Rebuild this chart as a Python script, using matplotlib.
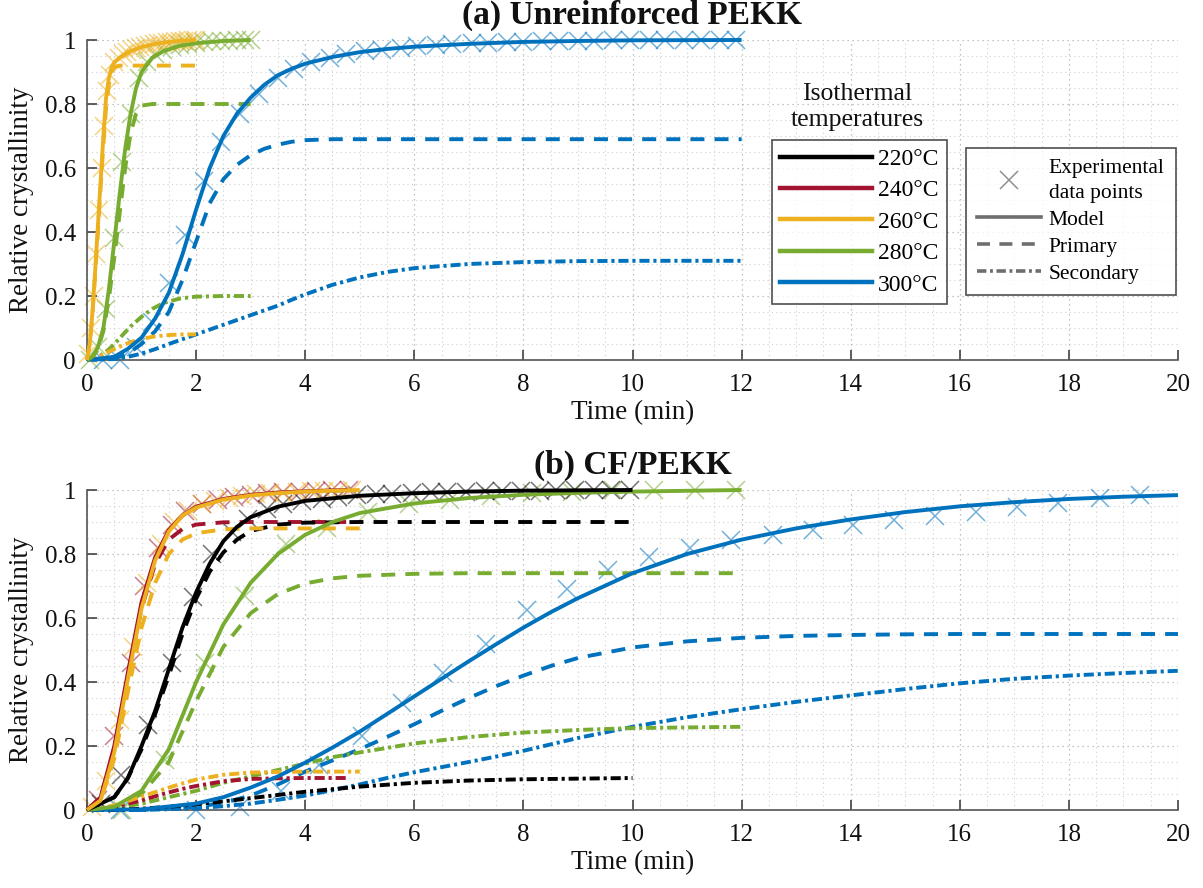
import matplotlib
matplotlib.use("Agg")
import matplotlib.pyplot as plt
from matplotlib.lines import Line2D
from matplotlib.ticker import MultipleLocator, FixedLocator

plt.rcParams['font.family'] = ['Liberation Serif', 'DejaVu Serif']

# ---------------- colours ----------------
C220, C240, C260, C280, C300 = '#000000', '#A2142F', '#EDB120', '#77AC30', '#0072BD'
temps = ['220°C', '240°C', '260°C', '280°C', '300°C']

# ---------------- (a) Unreinforced PEKK ----------------
t_a260 = [0, 0.05, 0.1, 0.15, 0.2, 0.25, 0.3, 0.35, 0.4, 0.45, 0.5, 0.6, 0.8, 1.0, 1.25, 1.5, 1.75, 2.0]
model_a260 = [0, 0.05, 0.15, 0.28, 0.42, 0.56, 0.7, 0.82, 0.88, 0.915, 0.93, 0.945, 0.965, 0.978, 0.988, 0.994, 0.998, 1.0]
prim_a260 = [0, 0.05, 0.14, 0.27, 0.4, 0.54, 0.67, 0.79, 0.86, 0.9, 0.915, 0.92, 0.92, 0.92, 0.92, 0.92, 0.92, 0.92]
sec_a260 = [0, 0, 0.002, 0.005, 0.01, 0.014, 0.018, 0.022, 0.026, 0.03, 0.034, 0.042, 0.056, 0.066, 0.074, 0.078, 0.08, 0.08]
exp_t_a260 = [0.02, 0.07, 0.12, 0.17, 0.22, 0.27, 0.32, 0.37, 0.42, 0.5, 0.58, 0.66, 0.74, 0.82, 0.9, 0.98, 1.06,
              1.14, 1.22, 1.3, 1.38, 1.46, 1.54, 1.62, 1.7, 1.78, 1.86, 1.94, 2.0]
exp_v_a260 = [0.02, 0.1, 0.2, 0.33, 0.47, 0.6, 0.73, 0.84, 0.89, 0.93, 0.945, 0.955, 0.962, 0.968, 0.974, 0.978, 0.982,
              0.985, 0.988, 0.99, 0.992, 0.994, 0.995, 0.996, 0.997, 0.998, 0.999, 1.0, 1.0]

t_a280 = [0, 0.1, 0.2, 0.3, 0.4, 0.5, 0.6, 0.7, 0.8, 0.9, 1.0, 1.2, 1.4, 1.7, 2.0, 2.5, 3.0]
model_a280 = [0, 0.01, 0.04, 0.1, 0.22, 0.37, 0.52, 0.66, 0.77, 0.85, 0.9, 0.945, 0.965, 0.982, 0.99, 0.997, 1.0]
prim_a280 = [0, 0.01, 0.035, 0.09, 0.19, 0.32, 0.46, 0.6, 0.71, 0.77, 0.795, 0.8, 0.8, 0.8, 0.8, 0.8, 0.8]
sec_a280 = [0, 0.003, 0.01, 0.02, 0.033, 0.05, 0.068, 0.087, 0.105, 0.12, 0.135, 0.16, 0.178, 0.192, 0.198, 0.2, 0.2]
exp_t_a280 = [0.05, 0.2, 0.35, 0.5, 0.65, 0.8, 0.95, 1.1, 1.25, 1.4, 1.55, 1.7, 1.85, 2.0, 2.15, 2.3, 2.45, 2.6, 2.75, 2.9, 3.0]
exp_v_a280 = [0.0, 0.04, 0.16, 0.38, 0.62, 0.77, 0.88, 0.93, 0.955, 0.968, 0.977, 0.983, 0.988, 0.991, 0.994, 0.996,
              0.997, 0.998, 0.999, 1.0, 1.0]

t_a300 = [0, 0.5, 0.75, 1.0, 1.25, 1.5, 1.75, 2.0, 2.25, 2.5, 2.75, 3.0, 3.25, 3.5, 3.75, 4.0, 4.5, 5.0, 5.5, 6.0,
          7.0, 8.0, 9.0, 10.0, 12.0]
model_a300 = [0, 0.01, 0.035, 0.07, 0.13, 0.21, 0.33, 0.47, 0.6, 0.7, 0.77, 0.82, 0.86, 0.89, 0.91, 0.926, 0.947,
              0.962, 0.972, 0.979, 0.988, 0.994, 0.997, 0.999, 1.0]
prim_a300 = [0, 0.005, 0.02, 0.05, 0.09, 0.15, 0.25, 0.37, 0.49, 0.565, 0.61, 0.64, 0.66, 0.673, 0.682, 0.687, 0.69,
             0.69, 0.69, 0.69, 0.69, 0.69, 0.69, 0.69, 0.69]
sec_a300 = [0, 0.003, 0.01, 0.02, 0.034, 0.05, 0.065, 0.08, 0.095, 0.11, 0.125, 0.14, 0.155, 0.17, 0.188, 0.205,
            0.235, 0.258, 0.275, 0.287, 0.3, 0.306, 0.309, 0.31, 0.31]
exp_t_a300 = [0.3, 0.6, 0.9, 1.2, 1.5, 1.8, 2.15, 2.45, 2.8, 3.15, 3.5, 3.8, 4.1, 4.45, 4.75, 5.1, 5.4, 5.75, 6.05,
              6.4, 6.7, 7.05, 7.35, 7.7, 8.0, 8.35, 8.65, 9.0, 9.3, 9.65, 9.95, 10.3, 10.6, 10.95, 11.25, 11.6, 11.9]
exp_v_a300 = [0.0, 0.0, 0.04, 0.12, 0.24, 0.39, 0.56, 0.68, 0.77, 0.83, 0.88, 0.91, 0.93, 0.945, 0.955, 0.965, 0.97,
              0.975, 0.98, 0.985, 0.988, 0.99, 0.992, 0.994, 0.995, 0.996, 0.997, 0.998, 0.998, 0.999, 0.999, 1.0,
              1.0, 1.0, 1.0, 1.0, 1.0]

# ---------------- (b) CF/PEKK ----------------
t_b220 = [0, 0.5, 0.75, 1.0, 1.25, 1.5, 1.75, 2.0, 2.25, 2.5, 2.75, 3.0, 3.5, 4.0, 5.0, 6.0, 7.0, 8.0, 10.0]
model_b220 = [0, 0.04, 0.1, 0.2, 0.31, 0.44, 0.57, 0.68, 0.77, 0.84, 0.885, 0.915, 0.948, 0.966, 0.982, 0.99, 0.995, 0.998, 1.0]
prim_b220 = [0, 0.04, 0.1, 0.19, 0.3, 0.42, 0.55, 0.66, 0.745, 0.805, 0.845, 0.872, 0.892, 0.898, 0.9, 0.9, 0.9, 0.9, 0.9]
sec_b220 = [0, 0.001, 0.002, 0.004, 0.007, 0.01, 0.014, 0.018, 0.022, 0.027, 0.032, 0.037, 0.047, 0.057, 0.073,
            0.085, 0.092, 0.096, 0.1]
exp_t_b220 = [0.25, 0.62, 1.12, 1.55, 1.95, 2.3, 2.65, 2.95, 3.3, 3.6, 3.95, 4.3, 4.6, 4.95, 5.3, 5.6, 5.95, 6.3,
              6.6, 6.95, 7.3, 7.6, 7.95, 8.3, 8.6, 8.95, 9.3, 9.6, 9.95]
exp_v_b220 = [0.02, 0.11, 0.265, 0.46, 0.665, 0.8, 0.87, 0.91, 0.94, 0.955, 0.965, 0.972, 0.978, 0.983, 0.986, 0.989,
              0.991, 0.993, 0.994, 0.995, 0.996, 0.997, 0.998, 0.998, 0.999, 0.999, 1.0, 1.0, 1.0]

t_b240 = [0, 0.25, 0.5, 0.75, 1.0, 1.25, 1.5, 1.75, 2.0, 2.5, 3.0, 3.5, 4.0, 4.75]
model_b240 = [0, 0.04, 0.2, 0.43, 0.65, 0.79, 0.875, 0.92, 0.948, 0.972, 0.985, 0.992, 0.996, 1.0]
prim_b240 = [0, 0.04, 0.19, 0.42, 0.63, 0.77, 0.845, 0.878, 0.892, 0.899, 0.9, 0.9, 0.9, 0.9]
sec_b240 = [0, 0.002, 0.01, 0.02, 0.03, 0.043, 0.055, 0.066, 0.075, 0.09, 0.097, 0.099, 0.1, 0.1]
exp_t_b240 = [0.2, 0.5, 0.8, 1.05, 1.3, 1.55, 1.8, 2.1, 2.4, 2.7, 3.0, 3.3, 3.6, 3.9, 4.2, 4.5, 4.8]
exp_v_b240 = [0.03, 0.23, 0.46, 0.7, 0.82, 0.89, 0.935, 0.955, 0.968, 0.978, 0.985, 0.99, 0.993, 0.995, 0.997, 0.999, 1.0]

t_b260 = [0, 0.25, 0.5, 0.75, 1.0, 1.25, 1.5, 1.75, 2.0, 2.5, 3.0, 3.5, 4.0, 5.0]
model_b260 = [0, 0.03, 0.18, 0.41, 0.63, 0.78, 0.87, 0.92, 0.945, 0.97, 0.983, 0.99, 0.995, 1.0]
prim_b260 = [0, 0.03, 0.16, 0.37, 0.57, 0.71, 0.8, 0.845, 0.865, 0.877, 0.88, 0.88, 0.88, 0.88]
sec_b260 = [0, 0.005, 0.015, 0.028, 0.042, 0.056, 0.07, 0.083, 0.095, 0.11, 0.117, 0.119, 0.12, 0.12]
exp_t_b260 = [0.1, 0.35, 0.6, 0.85, 1.1, 1.35, 1.6, 1.85, 2.1, 2.35, 2.6, 2.85, 3.1, 3.35, 3.6, 3.85, 4.1, 4.35, 4.6, 4.85]
exp_v_b260 = [0.01, 0.09, 0.28, 0.51, 0.71, 0.83, 0.9, 0.935, 0.955, 0.965, 0.975, 0.982, 0.986, 0.99, 0.992, 0.994,
              0.996, 0.997, 0.998, 1.0]

t_b280 = [0, 0.5, 1.0, 1.5, 2.0, 2.5, 3.0, 3.5, 4.0, 4.5, 5.0, 6.0, 7.0, 8.0, 9.0, 10.0, 12.0]
model_b280 = [0, 0.01, 0.06, 0.19, 0.4, 0.58, 0.71, 0.8, 0.86, 0.9, 0.928, 0.958, 0.975, 0.985, 0.991, 0.995, 1.0]
prim_b280 = [0, 0.008, 0.05, 0.15, 0.34, 0.51, 0.615, 0.675, 0.708, 0.724, 0.732, 0.738, 0.74, 0.74, 0.74, 0.74, 0.74]
sec_b280 = [0, 0.005, 0.02, 0.04, 0.06, 0.085, 0.105, 0.125, 0.145, 0.165, 0.18, 0.208, 0.228, 0.242, 0.25, 0.256, 0.26]
exp_t_b280 = [0.65, 1.43, 2.16, 2.9, 3.65, 4.4, 5.15, 5.9, 6.65, 7.4, 8.15, 8.9, 9.65, 10.4, 11.15, 11.9]
exp_v_b280 = [0.0, 0.156, 0.46, 0.67, 0.83, 0.88, 0.93, 0.955, 0.97, 0.98, 0.99, 0.995, 1.0, 1.0, 1.0, 1.0]

t_b300 = [0, 1, 2, 2.5, 3, 3.5, 4, 4.5, 5, 5.5, 6, 6.5, 7, 7.5, 8, 8.5, 9, 10, 11, 12, 13, 14, 15, 16, 17, 18, 19, 20]
model_b300 = [0, 0.002, 0.02, 0.04, 0.07, 0.105, 0.148, 0.195, 0.245, 0.3, 0.355, 0.41, 0.465, 0.518, 0.57, 0.618,
              0.662, 0.74, 0.8, 0.845, 0.88, 0.908, 0.931, 0.949, 0.962, 0.972, 0.979, 0.984]
prim_b300 = [0, 0.0, 0.01, 0.022, 0.045, 0.08, 0.12, 0.155, 0.19, 0.228, 0.268, 0.31, 0.35, 0.387, 0.42, 0.45,
             0.475, 0.508, 0.527, 0.538, 0.544, 0.547, 0.549, 0.55, 0.55, 0.55, 0.55, 0.55]
sec_b300 = [0, 0.0, 0.005, 0.012, 0.02, 0.032, 0.045, 0.062, 0.08, 0.1, 0.118, 0.134, 0.15, 0.167, 0.185, 0.205,
            0.225, 0.26, 0.29, 0.315, 0.338, 0.358, 0.378, 0.396, 0.41, 0.42, 0.428, 0.435]
exp_t_b300 = [0.6, 2.0, 2.8, 3.55, 4.25, 5.05, 5.77, 6.53, 7.31, 8.06, 8.8, 9.56, 10.3, 11.06, 11.8, 12.57, 13.3,
              14.05, 14.8, 15.55, 16.3, 17.05, 17.8, 18.57, 19.3]
exp_v_b300 = [0.0, 0.0, 0.01, 0.06, 0.14, 0.23, 0.334, 0.427, 0.52, 0.625, 0.69, 0.75, 0.79, 0.82, 0.844, 0.86,
              0.875, 0.89, 0.906, 0.92, 0.93, 0.948, 0.958, 0.974, 0.984]

x_ticks = [0, 2, 4, 6, 8, 10, 12, 14, 16, 18, 20]
y_ticks = [0, 0.2, 0.4, 0.6, 0.8, 1.0]
y_ticklabels = ['0', '0.2', '0.4', '0.6', '0.8', '1']

# ---------------- figure ----------------
W, H = 1203, 888
fig = plt.figure(figsize=(W / 100, H / 100), dpi=100)
ax_a = fig.add_axes([87 / W, 1 - 360 / H, 1091 / W, 320 / H])
ax_b = fig.add_axes([87 / W, 1 - 810 / H, 1091 / W, 320 / H])

LW = 2.8
DASH = (3.6, 2.6)
DASHDOT = (2.6, 1.0, 0.8, 1.0)


def draw_set(ax, t, model, prim, sec, et, ev, color):
    ax.plot(et, ev, ls='none', marker='x', ms=13, mew=1.1, color=color, alpha=0.55, zorder=2, clip_on=False)
    ax.plot(t, sec, color=color, lw=LW, ls=(0, DASHDOT), zorder=3, clip_on=False)
    ax.plot(t, prim, color=color, lw=LW, ls=(0, DASH), zorder=3, clip_on=False)
    ax.plot(t, model, color=color, lw=LW, ls='-', zorder=4, clip_on=False, solid_capstyle='butt',
            solid_joinstyle='round')


draw_set(ax_a, t_a300, model_a300, prim_a300, sec_a300, exp_t_a300, exp_v_a300, C300)
draw_set(ax_a, t_a280, model_a280, prim_a280, sec_a280, exp_t_a280, exp_v_a280, C280)
draw_set(ax_a, t_a260, model_a260, prim_a260, sec_a260, exp_t_a260, exp_v_a260, C260)

draw_set(ax_b, t_b300, model_b300, prim_b300, sec_b300, exp_t_b300, exp_v_b300, C300)
draw_set(ax_b, t_b280, model_b280, prim_b280, sec_b280, exp_t_b280, exp_v_b280, C280)
draw_set(ax_b, t_b240, model_b240, prim_b240, sec_b240, exp_t_b240, exp_v_b240, C240)
draw_set(ax_b, t_b220, model_b220, prim_b220, sec_b220, exp_t_b220, exp_v_b220, C220)
draw_set(ax_b, t_b260, model_b260, prim_b260, sec_b260, exp_t_b260, exp_v_b260, C260)

for ax, title in [(ax_a, '(a) Unreinforced PEKK'), (ax_b, '(b) CF/PEKK')]:
    ax.set_xlim(0, 20)
    ax.set_ylim(0, 1)
    ax.xaxis.set_major_locator(FixedLocator(x_ticks))
    ax.yaxis.set_major_locator(FixedLocator(y_ticks))
    ax.set_yticklabels(y_ticklabels)
    ax.xaxis.set_minor_locator(MultipleLocator(0.5))
    ax.yaxis.set_minor_locator(MultipleLocator(0.05))
    ax.grid(which='major', ls=(0, (1, 3)), color='#b0b0b0', lw=0.9)
    ax.grid(which='minor', ls=(0, (1, 3)), color='#d0d0d0', lw=0.8)
    ax.set_axisbelow(True)
    for s in ['top', 'right']:
        ax.spines[s].set_visible(False)
    for s in ['left', 'bottom']:
        ax.spines[s].set_color('#555555')
        ax.spines[s].set_linewidth(1.2)
    ax.tick_params(which='major', direction='in', length=7, width=1.1, color='#333333',
                   labelsize=18, labelcolor='#111111')
    ax.tick_params(axis='x', which='major', pad=10)
    ax.tick_params(axis='y', which='major', pad=8)
    ax.tick_params(which='minor', length=0)
    ax.set_xlabel('Time (min)', fontsize=19.5, color='#111111')
    ax.set_ylabel('Relative crystallinity', fontsize=19.5, color='#111111')
    ax.xaxis.set_label_coords(0.5, -0.165)
    ax.xaxis.label.set_va('center')
    ax.yaxis.set_label_coords(-0.0596, 0.5)
    ax.yaxis.label.set_va('center')
    ax.text(0.5, 1.078, title, transform=ax.transAxes, ha='center', va='center',
            fontsize=24, fontweight='bold', color='#111111')

# legends
temp_colors = [C220, C240, C260, C280, C300]
h1 = [Line2D([], [], color=c, lw=3.2) for c in temp_colors]
leg1 = fig.legend(h1, temps, loc='upper left', bbox_to_anchor=(772 / W, 1 - 140 / H),
                  borderaxespad=0, frameon=True, fancybox=False, fontsize=17,
                  handlelength=3.9, handletextpad=0.25, labelspacing=0.42, borderpad=0.35)
leg1.get_frame().set_edgecolor('#222222')
leg1.get_frame().set_linewidth(1.2)

fig.text(857 / W, 1 - 107 / H, 'Isothermal\ntemperatures', ha='center', va='center',
         fontsize=18.5, linespacing=1.25, color='#111111')

g = '#6e6e6e'
h2 = [Line2D([], [], ls='none', marker='x', ms=13, mew=1.1, color='#909090'),
      Line2D([], [], color=g, lw=2.6, ls='-'),
      Line2D([], [], color=g, lw=2.6, ls=(0, DASH)),
      Line2D([], [], color=g, lw=2.6, ls=(0, DASHDOT))]
leg2 = fig.legend(h2, ['Experimental\ndata points', 'Model', 'Primary', 'Secondary'], loc='upper left',
                  bbox_to_anchor=(966 / W, 1 - 148 / H), borderaxespad=0, frameon=True, fancybox=False,
                  fontsize=15.5, handlelength=3.0, handletextpad=0.35, labelspacing=0.32, borderpad=0.5)
leg2.get_frame().set_edgecolor('#222222')
leg2.get_frame().set_linewidth(1.2)
for txt in leg2.get_texts():
    txt.set_linespacing(1.45)

fig.savefig('out.png', dpi=100)
